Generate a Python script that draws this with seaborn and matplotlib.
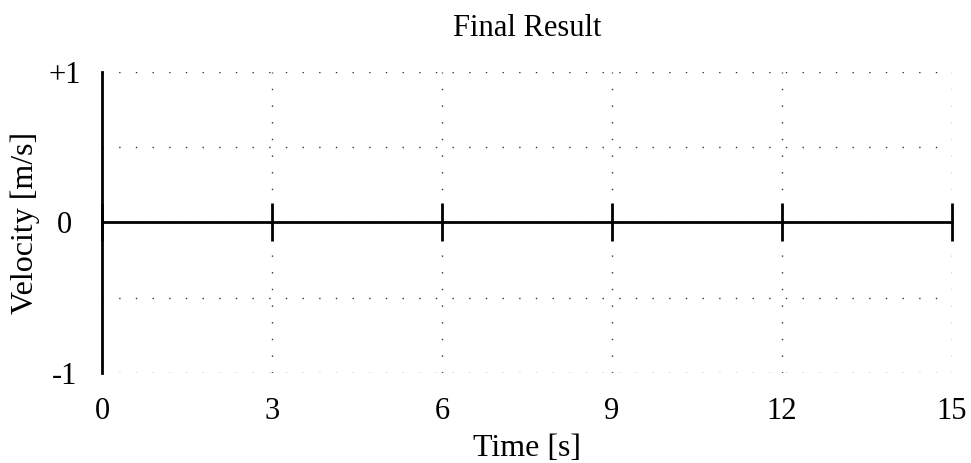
import numpy as np
import pandas as pd
import seaborn as sns
import matplotlib.pyplot as plt

# data
time_s = [0, 3, 6, 9, 12, 15]
velocity = [0, 0, 0, 0, 0, 0]
x_ticks = [0, 3, 6, 9, 12, 15]
y_ticks = [-1, -0.5, 0, 0.5, 1]
y_tick_labels = ['-1', '', '0', '', '+1']

sns.set_theme(style="white")
plt.rcParams['font.family'] = ['Liberation Serif', 'DejaVu Serif']

df = pd.DataFrame({'time': time_s, 'velocity': velocity})

fig = plt.figure(figsize=(9.71, 4.63), dpi=100)
ax = fig.add_axes([102 / 971, 90 / 463, 850 / 971, 301 / 463])

sns.lineplot(data=df, x='time', y='velocity', ax=ax, color='black', linewidth=2,
             marker='|', markersize=27, markeredgewidth=2, markeredgecolor='black',
             clip_on=False, zorder=5)

ax.set_xlim(0, 15)
ax.set_ylim(-1, 1)
ax.set_xticks(x_ticks)
ax.set_yticks(y_ticks)
ax.set_yticklabels(y_tick_labels, ha='center')
ax.tick_params(axis='both', length=0, labelsize=22, colors='black')
ax.tick_params(axis='x', pad=17)
ax.tick_params(axis='y', pad=27)

ax.grid(True, color='#333333', linewidth=1, linestyle=(0, (1, 11)))
for side in ['top', 'right', 'bottom']:
    ax.spines[side].set_visible(False)
ax.spines['left'].set_color('black')
ax.spines['left'].set_linewidth(2)
ax.spines['left'].set_zorder(6)

ax.set_xlabel('Time [s]', fontsize=23, color='black', labelpad=6)
ax.set_ylabel('Velocity [m/s]', fontsize=23, color='black', labelpad=6)
ax.set_title('Final Result', fontsize=22, color='black', pad=26)

fig.savefig('out.png', dpi=100)
